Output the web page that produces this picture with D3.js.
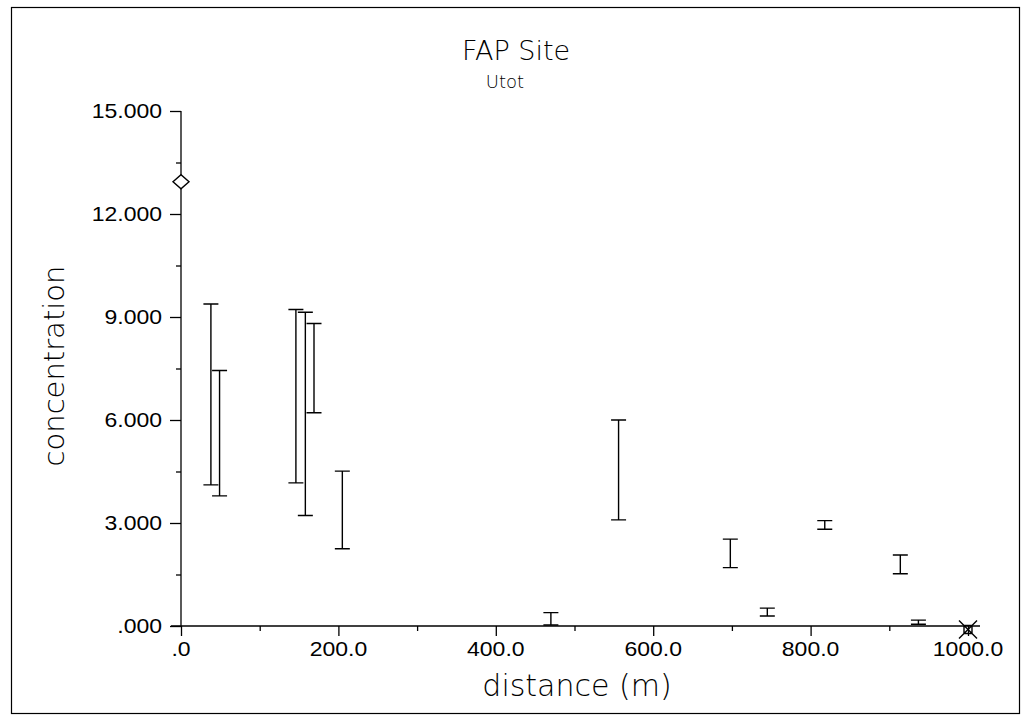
<!DOCTYPE html>
<html><head><meta charset="utf-8">
<script src="https://cdn.jsdelivr.net/npm/d3@7"></script>
<style>body{margin:0;background:#fff}svg{display:block}</style>
</head><body>
<svg id="c" width="1022" height="727"></svg>
<script>
// Data (distance in m, concentration range low/high)
const distances = [38, 49, 146, 158, 169, 205, 470, 556, 698, 745, 818, 914, 937];
const lowValues  = [4.11, 3.79, 4.17, 3.22, 6.21, 2.25, 0.03, 3.09, 1.70, 0.29, 2.82, 1.52, 0.05];
const highValues = [9.38, 7.44, 9.22, 9.14, 8.81, 4.51, 0.39, 6.00, 2.53, 0.52, 3.07, 2.07, 0.17];
const diamondPoint = [0, 12.94];
const crossPoint = [1000, -0.1];
const yTickValues = [0, 3, 6, 9, 12, 15];
const yTickLabels = [".000", "3.000", "6.000", "9.000", "12.000", "15.000"];
const xTickValues = [0, 200, 400, 600, 800, 1000];
const xTickLabels = [".0", "200.0", "400.0", "600.0", "800.0", "1000.0"];

const svg = d3.select("#c");
const x = d3.scaleLinear().domain([0, 1000]).range([181, 968]);
const y = d3.scaleLinear().domain([0, 15]).range([626, 111]);
const ink = "#000";
const tickFont = "'Liberation Sans', Arial, sans-serif";
const labelFont = "'DejaVu Sans', sans-serif";
const stretch = 1.15;

// page frame
svg.append("rect").attr("x", 11.5).attr("y", 7.5).attr("width", 1008).attr("height", 706)
  .attr("fill", "none").attr("stroke", ink).attr("stroke-width", 1.2);

// titles
svg.append("text").attr("x", 516).attr("y", 60).attr("text-anchor", "middle")
  .attr("font-family", labelFont).attr("font-weight", 200).attr("font-size", 27).attr("fill", ink).text("FAP Site");
svg.append("text").attr("x", 505).attr("y", 88).attr("text-anchor", "middle")
  .attr("font-family", labelFont).attr("font-weight", 300).attr("font-size", 18).attr("fill", ink).text("Utot");

// Y axis
const yAxis = d3.axisLeft(y).tickValues(d3.range(0, 15.01, 1.5))
  .tickSize(6).tickFormat("");
const gy = svg.append("g").attr("transform", `translate(${x(0)},0)`).call(yAxis);
gy.select(".domain").attr("stroke", ink).attr("stroke-width", 1.3).attr("d", `M0,${y(15)}V${y(0)}`);
gy.selectAll(".tick line").attr("stroke", ink).attr("stroke-width", 1.3)
  .attr("x2", d => (Math.round(d*10) % 30 === 0) ? -11 : -5);
svg.append("g").selectAll("text").data(yTickValues).join("text")
  .attr("transform", d => `translate(162,${y(d)}) scale(${stretch},1)`)
  .attr("dy", "0.36em").attr("text-anchor", "end")
  .attr("font-family", tickFont).attr("font-size", 20).attr("fill", ink)
  .text((d, i) => yTickLabels[i]);

// X axis
const xAxis = d3.axisBottom(x).tickValues(d3.range(0, 1001, 100)).tickSize(6).tickFormat("");
const gx = svg.append("g").attr("transform", `translate(0,${y(0)})`).call(xAxis);
gx.select(".domain").attr("stroke", ink).attr("stroke-width", 1.6).attr("d", `M${x(0)-10},0H${x(1000)+12}`);
gx.selectAll(".tick line").attr("stroke", ink).attr("stroke-width", 1.3)
  .attr("y2", d => (d % 200 === 0) ? 10 : 5);
svg.append("g").selectAll("text").data(xTickValues).join("text")
  .attr("transform", d => `translate(${x(d)},656) scale(${stretch},1)`)
  .attr("text-anchor", "middle")
  .attr("font-family", tickFont).attr("font-size", 20).attr("fill", ink)
  .text((d, i) => xTickLabels[i]);

// axis titles
svg.append("text").attr("x", 577).attr("y", 696).attr("text-anchor", "middle")
  .attr("font-family", labelFont).attr("font-weight", 200).attr("font-size", 30).attr("fill", ink).text("distance (m)");
svg.append("text").attr("transform", "translate(64,366) rotate(-90)").attr("text-anchor", "middle")
  .attr("font-family", labelFont).attr("font-weight", 200).attr("font-size", 29).attr("fill", ink).text("concentration");

// error bars
const bars = distances.map((d, i) => ({d, lo: lowValues[i], hi: highValues[i]}));
const gb = svg.append("g").attr("stroke", ink).attr("stroke-width", 1.4).attr("fill", "none");
const cap = 7.5;
gb.selectAll("path.bar").data(bars).join("path").attr("class", "bar")
  .attr("d", b => `M${x(b.d)},${y(b.hi)}V${y(b.lo)}` +
    `M${x(b.d)-cap},${y(b.hi)}H${x(b.d)+cap}` +
    `M${x(b.d)-cap},${y(b.lo)}H${x(b.d)+cap}`);

// diamond marker
const dx = x(diamondPoint[0]), dy = y(diamondPoint[1]);
svg.append("path").attr("d", `M${dx-8},${dy}L${dx},${dy-7}L${dx+8},${dy}L${dx},${dy+7}Z`)
  .attr("fill", "#fff").attr("stroke", ink).attr("stroke-width", 1.4);

// square with X marker
const cx = x(crossPoint[0]), cy = y(crossPoint[1]);
svg.append("path").attr("d",
  `M${cx-4},${cy-4}h8v8h-8Z M${cx-9},${cy-9}L${cx+9},${cy+9} M${cx+9},${cy-9}L${cx-9},${cy+9}`)
  .attr("fill", "none").attr("stroke", ink).attr("stroke-width", 1.4);
</script>
</body></html>
